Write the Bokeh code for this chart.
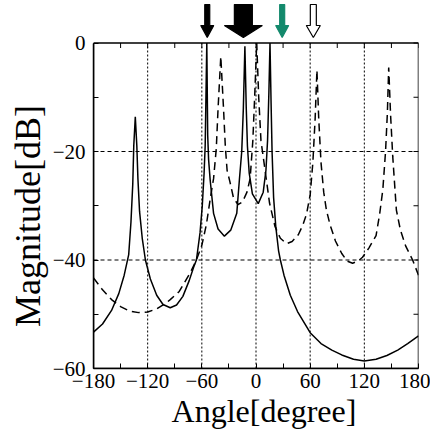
from bokeh.plotting import figure
from bokeh.models import Range1d, FixedTicker
from bokeh.embed import file_html
from bokeh.resources import INLINE

# ---------------- data ----------------
solid_angle = [-180, -170, -160, -152, -146, -141, -138.5, -136.5, -135.4, -133.7, -132.0, -130.8,
               -129, -126, -122.5, -117, -110, -103, -95, -88, -81, -74, -69, -66, -62, -59.5,
               -57.5, -56.3, -54.5, -53.5, -52.5, -50.8, -47, -42, -35, -28, -21.3, -18.4, -15.8,
               -14, -12.3, -10.8, -9.5, -7.5, -4, 2.5, 8, 11, 12.8, 14.3, 15.5, 16.7, 17.8, 19.5,
               22, 25, 27, 31, 38, 46, 60, 72, 84, 95, 108, 120, 133, 145, 157, 168, 180]
solid_db = [-53.3, -51.8, -49.3, -46.2, -42.8, -39.0, -33.0, -26.0, -19.0, -13.6, -19.0, -25.0,
            -31.0, -36.0, -40.0, -43.5, -46.5, -48.2, -48.8, -48.3, -46.7, -43.8, -41.3, -40.0, -35.0, -30.0,
            -24.0, -19.0, 0.0, -17.0, -21.5, -25.2, -31.4, -34.3, -35.6, -34.5, -31.4, -25.2, -20.0,
            -12.0, -0.6, -12.0, -19.0, -24.0, -27.8, -29.6, -27.5, -23.5, -18.0, -9.0, 0.0, -11.0, -20.0, -28.5,
            -34.0, -38.3, -40.0, -42.8, -46.5, -49.5, -53.4, -55.4, -56.6, -57.5, -58.3, -58.6, -58.3, -57.6,
            -56.6, -55.4, -54.0]

dashed_angle = [-180, -170, -160, -150, -140, -130, -120, -110, -100, -95, -85, -73, -66, -60, -55,
                -50, -47, -44, -42, -39, -36, -34, -32, -29, -25, -20, -15, -10, -6.5, -3.5, -1.5,
                0.8, 3, 5.5, 10, 15, 21, 27, 34, 40, 47, 52, 56, 60, 63, 65.5, 67.5, 69.5, 72, 75,
                78, 82, 88, 95, 101, 107, 113, 118, 125, 133, 137, 140.5, 143.5, 145.5, 147, 149,
                151.5, 155.5, 160, 166, 173.5, 180]
dashed_db = [-43.3, -45.5, -47.3, -48.6, -49.4, -49.7, -49.6, -49.0, -48.0, -47.3, -45.8, -42.4, -40.0,
             -37.3, -33.5, -28.0, -25.0, -19.5, -12.0, -2.5, -12.0, -19.0, -23.5, -25.5, -28.5, -29.8,
             -29.3, -27.5, -25.0, -18.0, -10.0, 0.0, -10.0, -18.0, -23.4, -29.5, -33.8, -36.0, -37.0,
             -36.6, -35.3, -33.5, -31.5, -28.0, -22.0, -14.0, -5.0, -14.0, -22.0, -27.5, -30.8, -33.5,
             -36.5, -38.8, -40.2, -40.6, -40.2, -39.5, -37.8, -35.5, -31.5, -27.0, -20.0, -13.0, -4.5,
             -13.0, -21.0, -30.8, -34.5, -37.5, -40.0, -42.8]

x_ticks = [-180, -120, -60, 0, 60, 120, 180]
x_minor = [-150, -90, -30, 30, 90, 150]
y_ticks = [-60, -40, -20, 0]
y_minor = [-50, -30, -10]

x_label = "Angle[degree]"
y_label = "Magnitude[dB]"

arrow_angles = [-54.0, -14.0, 29.0, 63.5]
arrow_fill = ["black", "black", "#13896c", "white"]
arrow_line = ["black", "black", "#13896c", "black"]

# ---------------- style / layout ----------------
W, H = 430, 434
BL, BR, BT, BB = 93, 12, 0, 66
STRIP = 42.5                     # pixels above the 0 dB line reserved for the arrows
FONT = "Liberation Serif"
X0, X1, Y0, Y1 = -180, 180, -60, 0
NB = "\u00a0"                    # non-breaking spaces used only to nudge label centres

frame_w = W - BL - BR
frame_h = H - BT - BB
px_per_deg = frame_w / (X1 - X0)
px_per_db = (frame_h - STRIP) / (Y1 - Y0)
Y_TOP = Y1 + STRIP / px_per_db

p = figure(width=W, height=H, x_range=Range1d(X0, X1), y_range=Range1d(Y0, Y_TOP),
           output_backend="svg", toolbar_location=None,
           min_border_left=BL, min_border_right=BR, min_border_top=BT, min_border_bottom=BB,
           background_fill_color="white", border_fill_color="white")
p.outline_line_color = None
p.xgrid.visible = False
p.ygrid.visible = False

xt = FixedTicker(ticks=x_ticks, minor_ticks=x_minor)
yt = FixedTicker(ticks=y_ticks, minor_ticks=y_minor)
p.xaxis.ticker = xt
p.yaxis.ticker = yt
for ax in (p.xaxis[0], p.yaxis[0]):
    ax.axis_line_color = "black"
    ax.axis_line_width = 1.5
    ax.major_tick_in = 5
    ax.major_tick_out = 0
    ax.minor_tick_in = 5
    ax.minor_tick_out = 0
    ax.major_tick_line_color = "black"
    ax.minor_tick_line_color = "black"
    ax.major_label_text_font = FONT
    ax.major_label_text_font_size = "21px"
    ax.major_label_text_color = "black"
    ax.axis_label_text_font = FONT
    ax.axis_label_text_font_style = "normal"
    ax.axis_label_text_color = "black"
p.yaxis.bounds = (Y0, Y1)

p.xaxis.axis_label = NB * 2 + x_label
p.xaxis.axis_label_text_font_size = "32px"
p.xaxis.major_label_standoff = 5
p.xaxis.axis_label_standoff = 2
p.yaxis.axis_label = y_label + NB * 7
p.yaxis.axis_label_text_font_size = "36px"
p.yaxis.major_label_standoff = 8
p.yaxis.axis_label_standoff = 2

# grid lines inside the data box
inner_x = [t for t in x_ticks if X0 < t < X1]
inner_y = [t for t in y_ticks if Y0 < t < Y1]
p.segment(x0=inner_x, y0=[Y0] * len(inner_x), x1=inner_x, y1=[Y1] * len(inner_x),
          line_color="black", line_width=1, line_dash="2 2")
p.segment(x0=[X0] * len(inner_y), y0=inner_y, x1=[X1] * len(inner_y), y1=inner_y,
          line_color="black", line_width=1, line_dash="4 3")

# inward ticks on top and right edges
tick_len = 5
top_x = x_ticks + x_minor
p.segment(x0=top_x, y0=[Y1] * len(top_x), x1=top_x, y1=[Y1 - tick_len / px_per_db] * len(top_x),
          line_color="black", line_width=1)
right_y = y_ticks + y_minor
p.segment(x0=[X1] * len(right_y), y0=right_y, x1=[X1 - tick_len / px_per_deg] * len(right_y),
          y1=right_y, line_color="black", line_width=1)

p.line(dashed_angle, dashed_db, line_color="black", line_width=1.5, line_dash="8 5")
p.line(solid_angle, solid_db, line_color="black", line_width=1.5)

# data box outline
p.quad(left=[X0], right=[X1], bottom=[Y0], top=[Y1], fill_color=None,
       line_color="black", line_width=1.5)

# arrows above the box (sizes in pixels converted to data units)
shaft_half = [2.5, 9.0, 2.5, 3.0]
head_half = [6.5, 19.0, 6.5, 7.0]
tip_px, base_px, top_px = 5.5, 17.5, 38.5
xs_list, ys_list = [], []
for ang, sh, hh in zip(arrow_angles, shaft_half, head_half):
    s = sh / px_per_deg
    h = hh / px_per_deg
    xs_list.append([ang - s, ang + s, ang + s, ang + h, ang, ang - h, ang - s])
    ys_list.append([Y1 + v / px_per_db for v in (top_px, top_px, base_px, base_px, tip_px, base_px, base_px)])
p.patches(xs_list, ys_list, fill_color=arrow_fill, line_color=arrow_line, line_width=1.2)

open("out.html", "w").write(file_html(p, INLINE))
